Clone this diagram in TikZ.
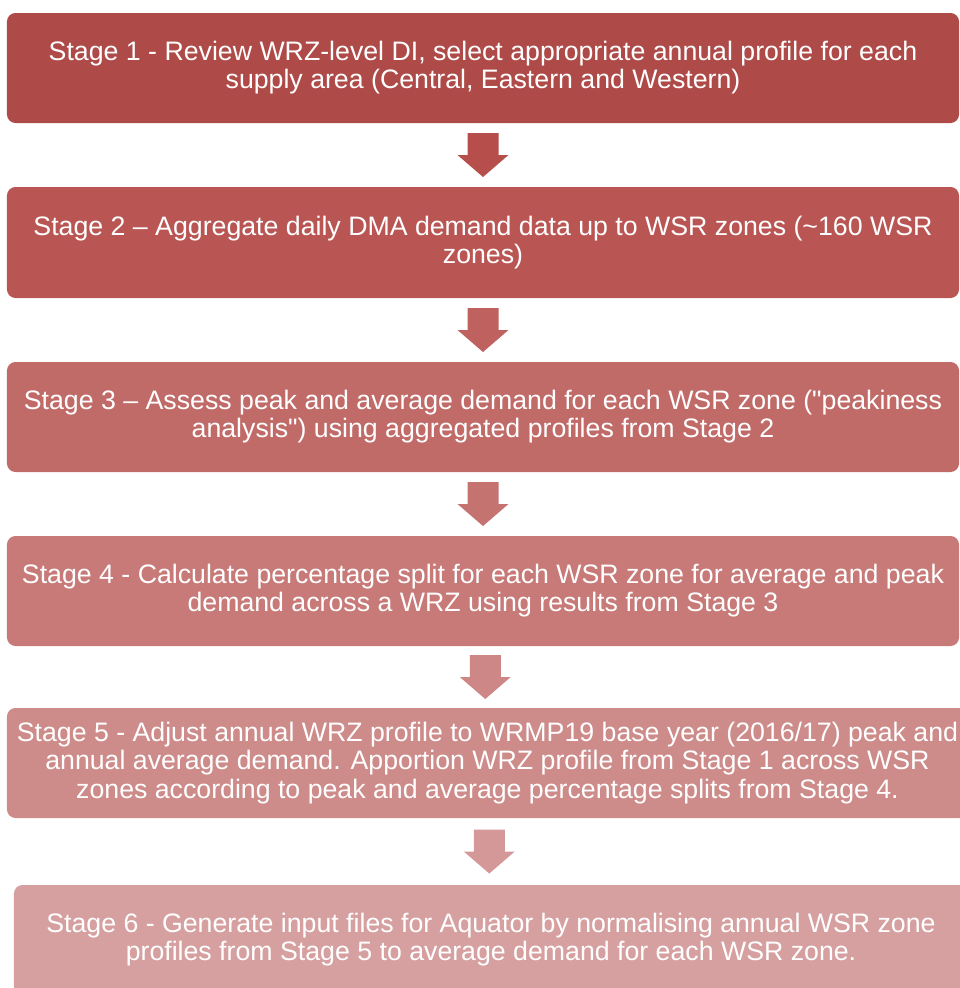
\documentclass[tikz,border=0pt]{standalone}
\usepackage{fontspec}
\setmainfont{Liberation Sans}[Ligatures=TeXOff]
\usetikzlibrary{calc}

\definecolor{stageA}{RGB}{174,74,71}
\definecolor{stageB}{RGB}{185,86,84}
\definecolor{stageC}{RGB}{193,107,105}
\definecolor{stageD}{RGB}{199,122,120}
\definecolor{stageE}{RGB}{205,139,138}
\definecolor{stageF}{RGB}{214,160,160}
\definecolor{arrowA}{RGB}{182,78,76}
\definecolor{arrowB}{RGB}{190,97,95}
\definecolor{arrowC}{RGB}{197,115,113}
\definecolor{arrowD}{RGB}{205,135,134}
\definecolor{arrowE}{RGB}{212,152,152}

\begin{document}
\begin{tikzpicture}[
  stagebox/.style = {rounded corners=6pt, align=center, text=white, inner sep=0pt,
                     minimum width=23.8cm, minimum height=2.75cm,
                     font=\fontsize{19}{20}\selectfont},
]

\useasboundingbox (0,0) rectangle (24,-24.7);

% Stage boxes, top to bottom
\node [stagebox, fill=stageA] (stage1) at (12.075,-1.7)
  {Stage 1 - Review WRZ-level DI, select appropriate annual profile for each\\
   supply area (Central, Eastern and Western)};

\node [stagebox, fill=stageB, minimum height=2.775cm] (stage2) at (12.075,-6.0625)
  {Stage 2 – Aggregate daily DMA demand data up to WSR zones ({\char`~}160 WSR\\
   zones)};

\node [stagebox, fill=stageC] (stage3) at (12.075,-10.425)
  {Stage 3 – Assess peak and average demand for each WSR zone ("peakiness\\
   analysis") using aggregated profiles from Stage 2};

\node [stagebox, fill=stageD] (stage4) at (12.075,-14.775)
  {Stage 4 - Calculate percentage split for each WSR zone for average and peak\\
   demand across a WRZ using results from Stage 3};

\node [stagebox, fill=stageE, minimum width=24.025cm] (stage5) at (12.1875,-19.075)
  {Stage 5 - Adjust annual WRZ profile to WRMP19 base year (2016/17) peak and\\
   annual average demand. Apportion WRZ profile from Stage 1 across WSR\\
   zones according to peak and average percentage splits from Stage 4.};

\node [stagebox, fill=stageF, minimum width=23.85cm] (stage6) at (12.275,-23.5)
  {Stage 6 - Generate input files for Aquator by normalising annual WSR zone\\
   profiles from Stage 5 to average demand for each WSR zone.};

% Block arrows between the stages
\foreach \a/\b/\c in {stage1/stage2/arrowA, stage2/stage3/arrowB,
                      stage3/stage4/arrowC, stage4/stage5/arrowD,
                      stage5/stage6/arrowE} {
  \coordinate (mid) at ($(\a.south)!0.5!(\b.north)$);
  \fill [\c, shift={(mid)}]
    (-0.3875,0.55) -- (0.3875,0.55) -- (0.3875,0) -- (0.6375,0)
    -- (0,-0.55) -- (-0.6375,0) -- (-0.3875,0) -- cycle;
}

\end{tikzpicture}
\end{document}
